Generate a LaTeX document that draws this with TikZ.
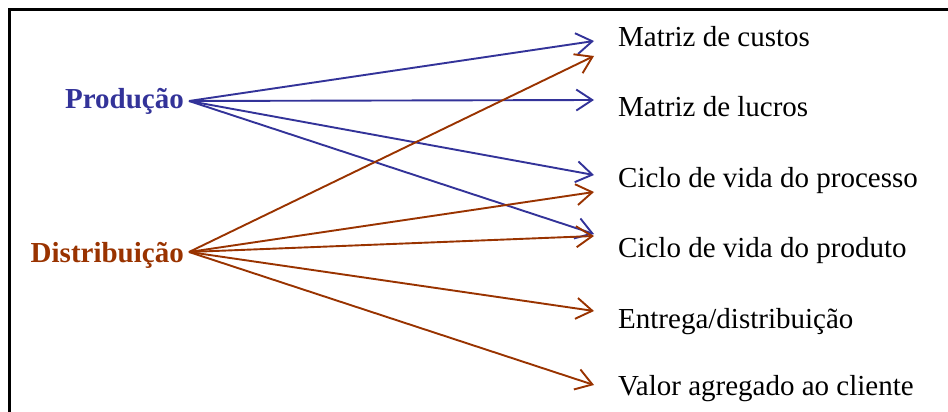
\documentclass[tikz,border=0pt]{standalone}
\usepackage{fontspec}
\setmainfont{Liberation Serif}
\usetikzlibrary{arrows.meta}
\definecolor{prodblue}{RGB}{51,51,153}
\definecolor{distbrown}{RGB}{153,51,0}
\tikzset{
  src/.style   = {font=\fontsize{29}{34}\selectfont\bfseries, inner sep=0pt, anchor=base east},
  item/.style  = {font=\fontsize{29}{34}\selectfont, inner sep=0pt, anchor=base west},
  link/.style  = {-{Straight Barb[length=16pt,width=21pt]}, line width=1.9pt},
  plink/.style = {link, prodblue},
  dlink/.style = {link, distbrown},
}
\begin{document}
\begin{tikzpicture}[x=1pt,y=-1pt]
  \useasboundingbox (0,0) rectangle (948,412);
  \clip (0,0) rectangle (948,412);
  \draw[line width=3pt] (9,430) -- (9,10) -- (960,10);
  % sources
  \node[src, prodblue] (prod) at (184,108) {Produção};
  \node[src, distbrown] (dist) at (184,262) {Distribuição};
  \coordinate (prodout) at (189,101);
  \coordinate (distout) at (189,252);
  % targets
  \node[item] (custos)   at (618,47)  {Matriz de custos};
  \node[item] (lucros)   at (618,116) {Matriz de lucros};
  \node[item] (processo) at (618,187) {Ciclo de vida do processo};
  \node[item] (produto)  at (618,257) {Ciclo de vida do produto};
  \node[item] (entrega)  at (618,328) {Entrega/distribuição};
  \node[item] (valor)    at (618,395) {Valor agregado ao cliente};
  \coordinate (custosP)   at (594,41);
  \coordinate (custosD)   at (594,56);
  \coordinate (lucrosP)   at (594,100);
  \coordinate (processoP) at (594,175);
  \coordinate (processoD) at (594,192);
  \coordinate (produtoP)  at (594,234);
  \coordinate (produtoD)  at (594,236);
  \coordinate (entregaD)  at (594,311);
  \coordinate (valorD)    at (594,385);
  % connectors
  \foreach \t in {custosP,lucrosP,processoP,produtoP}
    \draw[plink] (prodout) -- (\t);
  \foreach \t in {custosD,processoD,produtoD,entregaD,valorD}
    \draw[dlink] (distout) -- (\t);
\end{tikzpicture}
\end{document}
